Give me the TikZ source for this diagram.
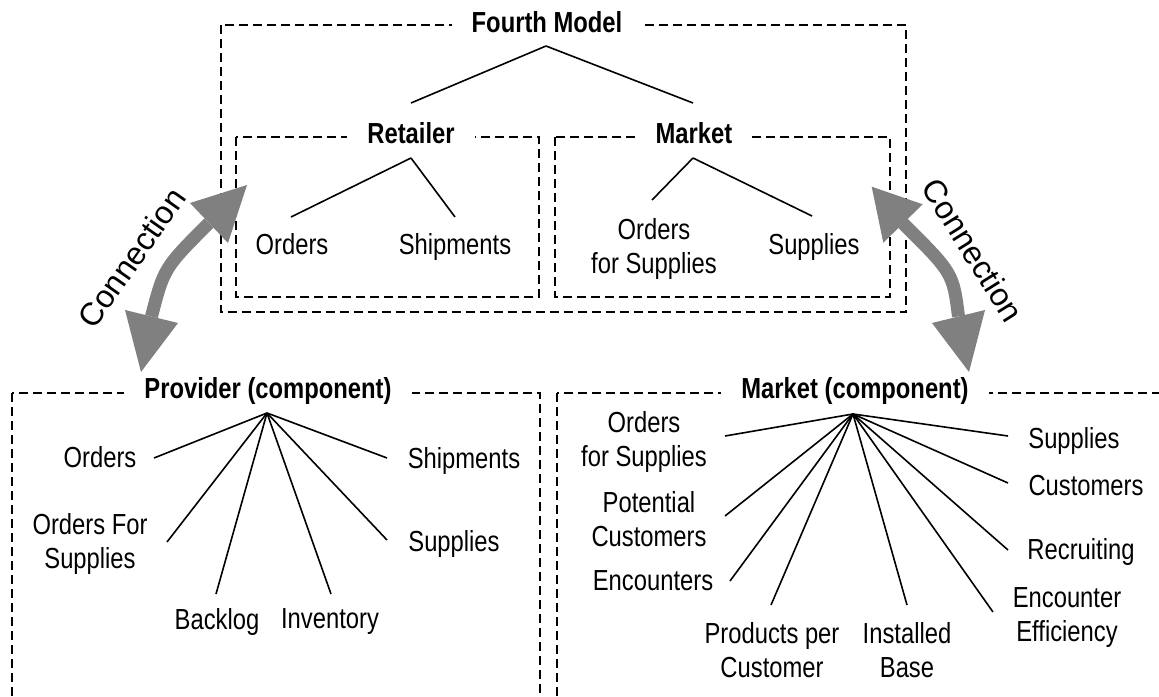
\documentclass[tikz,border=0pt]{standalone}
\usepackage{fontspec}
\setmainfont[FakeStretch=0.82]{Liberation Sans}
\newfontfamily\connfont{Liberation Sans}
\begin{document}
\begin{tikzpicture}[x=1pt,y=-1pt,
  dbox/.style={draw=black, line width=2pt, dash pattern=on 9pt off 5pt},
  lbl/.style={font={\fontsize{29}{34}\selectfont}, align=center, inner sep=0pt},
  ttl/.style={font={\fontsize{29}{34}\selectfont\bfseries}, fill=white, inner xsep=20pt, inner ysep=2pt},
  link/.style={draw=black, line width=1.6pt},
  conn/.style={draw=gray, line width=13pt},
  head/.style={fill=gray},
  ctext/.style={font={\connfont\fontsize{32}{36}\selectfont}, inner sep=0pt}]
\useasboundingbox (0,0) rectangle (1159,696);

% dashed boxes
\draw[dbox] (220.5,25) rectangle (906,312);
\draw[dbox] (236,137) rectangle (539,297);
\draw[dbox] (555,137) rectangle (890,297);
\draw[dbox] (12,393) rectangle (540,720);
\draw[dbox] (557,393) rectangle (1190,720);

% titles
\node[ttl] (fm) at (547,22) {Fourth Model};
\node[ttl] (ret) at (411,133) {Retailer};
\node[ttl] (mkt) at (694,133) {Market};
\node[ttl] (prov) at (268,391) {Provider (component)};
\node[ttl] (mc) at (855,391) {Market (component)};

% labels: top
\node[lbl] (rOrd) at (292,244) {Orders};
\node[lbl] (rShip) at (455,247) {Shipments};
\node[lbl] (mOfs) at (654,249) {Orders\\for Supplies};
\node[lbl] (mSup) at (814,247) {Supplies};

% labels: provider
\node[lbl] (pOrd) at (100,457.5) {Orders};
\node[lbl] (pOfs) at (90,543.5) {Orders For\\Supplies};
\node[lbl] (pBack) at (217,621.5) {Backlog};
\node[lbl] (pInv) at (330,621.5) {Inventory};
\node[lbl] (pShip) at (464,460.5) {Shipments};
\node[lbl] (pSup) at (454,543.5) {Supplies};

% labels: market component
\node[lbl] (cOfs) at (644,442) {Orders\\for Supplies};
\node[lbl] (cPot) at (649,519) {Potential\\Customers};
\node[lbl] (cEnc) at (653,581) {Encounters};
\node[lbl] (cPpc) at (772,650.5) {Products per\\Customer};
\node[lbl] (cIb) at (907,650.5) {Installed\\Base};
\node[lbl] (cEe) at (1067,617.5) {Encounter\\Efficiency};
\node[lbl] (cRec) at (1081,551.5) {Recruiting};
\node[lbl] (cCus) at (1086,486) {Customers};
\node[lbl] (cSup) at (1074,440.5) {Supplies};

% hubs and line ends
\coordinate (fmh) at (546,46);
\coordinate (fmL) at (411,103);
\coordinate (fmR) at (693,103);
\coordinate (rh) at (411,158);
\coordinate (rE1) at (291,217);
\coordinate (rE2) at (455,217);
\coordinate (mh) at (693,158);
\coordinate (mE1) at (652,200);
\coordinate (mE2) at (812,216);
\coordinate (ph) at (267,413);
\coordinate (pE1) at (154,458);
\coordinate (pE2) at (167,542);
\coordinate (pE3) at (216,594);
\coordinate (pE4) at (331,594);
\coordinate (pE5) at (387,458);
\coordinate (pE6) at (387,540);
\coordinate (ch) at (853,414);
\coordinate (cE1) at (725,436);
\coordinate (cE2) at (725,516);
\coordinate (cE3) at (730,581);
\coordinate (cE4) at (771,605);
\coordinate (cE5) at (907,605);
\coordinate (cE6) at (993,612);
\coordinate (cE7) at (1008,550);
\coordinate (cE8) at (1008,483);
\coordinate (cE9) at (1008,436);

\draw[link] (fmh) -- (fmL);
\draw[link] (fmh) -- (fmR);
\draw[link] (rh) -- (rE1);
\draw[link] (rh) -- (rE2);
\draw[link] (mh) -- (mE1);
\draw[link] (mh) -- (mE2);
\foreach \e in {pE1,pE2,pE3,pE4,pE5,pE6} \draw[link] (ph) -- (\e);
\foreach \e in {cE1,cE2,cE3,cE4,cE5,cE6,cE7,cE8,cE9} \draw[link] (ch) -- (\e);

% connection arrows
\coordinate (lA) at (209,223);
\coordinate (lB) at (151.5,316.5);
\coordinate (rA) at (903,223.4);
\coordinate (rB) at (958.5,316.5);
\draw[conn] (lA) .. controls (164,268) .. (lB);
\draw[conn] (rA) .. controls (953,273) .. (rB);
\fill[head] (247,185) -- (190,203) -- (228,243) -- cycle;
\fill[head] (141,372) -- (125,310) -- (178,323) -- cycle;
\fill[head] (871.7,186.7) -- (922.7,204.3) -- (883.3,242.7) -- cycle;
\fill[head] (969,372) -- (932,323) -- (985,310) -- cycle;

\node[ctext, rotate=55] (cl) at (131.5,258) {Connection};
\node[ctext, rotate=-58] (cr) at (973,250) {Connection};
\end{tikzpicture}
\end{document}
